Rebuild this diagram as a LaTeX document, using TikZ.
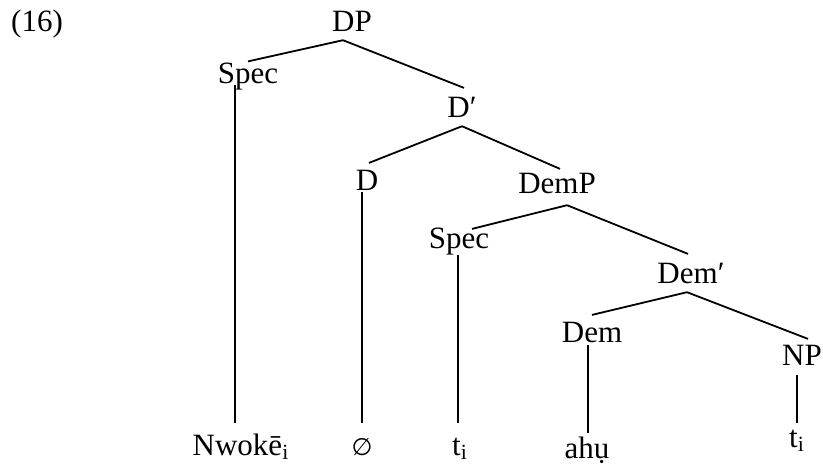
\documentclass[tikz,border=0pt]{standalone}
\usepackage{fontspec}
\setmainfont{Liberation Serif}
\newfontfamily\emptysetfont{DejaVu Sans}
\usepackage{tikz}
\usetikzlibrary{positioning}

\tikzset{
  cat/.style={anchor=base, inner sep=0pt, text height=10.85pt, text depth=3.9pt,
    font=\fontsize{15.5}{18}\selectfont},
  branch/.style={line width=0.9pt}
}

\begin{document}
\begin{tikzpicture}[x=0.5pt, y=-0.5pt]
\useasboundingbox (0, 0) rectangle (823, 465);

\node[cat] (ex) at (37, 32) {(16)};

\node[cat] (dp) at (352, 32) {DP};
\node[cat] (spec1) at (248, 83.5) {Spec};
\node[cat] (dbar) at (462, 118) {D′};
\node[cat] (d) at (367, 190) {D};
\node[cat] (demp) at (557, 193) {DemP};
\node[cat] (spec2) at (459, 248) {Spec};
\node[cat] (dembar) at (691, 283) {Dem′};
\node[cat] (dem) at (592, 342) {Dem};
\node[cat] (np) at (802, 365) {NP};

% leaves
\node[cat] (nwoke) at (241, 455) {Nwokē\textsubscript{i}};
\node[cat] (null) at (362, 455) {\emptysetfont\fontsize{12}{14}\selectfont ∅};
\node[cat] (t1) at (460, 455) {t\textsubscript{i}};
\node[cat] (ahu) at (587, 458) {ahụ};
\node[cat] (t2) at (797, 447) {t\textsubscript{i}};

\draw[branch] ([xshift=-4.5pt]dp.south) -- (spec1.north);
\draw[branch] ([xshift=-4.5pt]dp.south) -- ([shift={(1pt,4pt)}]dbar.north);
\draw[branch] (dbar.south) -- ([shift={(1pt,2.5pt)}]d.north);
\draw[branch] (dbar.south) -- ([shift={(1.5pt,1pt)}]demp.north);
\draw[branch] ([shift={(5pt,-2pt)}]demp.south) -- ([shift={(6.5pt,-1.5pt)}]spec2.north);
\draw[branch] ([shift={(5pt,-2pt)}]demp.south) -- ([shift={(-1.5pt,3.5pt)}]dembar.north);
\draw[branch] ([shift={(-2pt,-0.5pt)}]dembar.south) -- ([yshift=2.5pt]dem.north);
\draw[branch] ([shift={(-2pt,-0.5pt)}]dembar.south) -- ([shift={(3pt,2pt)}]np.north);

\draw[branch] ([shift={(-6.5pt,-0.75pt)}]spec1.base) -- ([shift={(-3pt,5pt)}]nwoke.north);
\draw[branch] ([shift={(-2.5pt,-1pt)}]d.base) -- ([yshift=5pt]null.north);
\draw[branch] ([shift={(-0.5pt,-3.5pt)}]spec2.base) -- ([shift={(-1pt,5pt)}]t1.north);
\draw[branch] ([shift={(-2pt,-1.5pt)}]dem.base) -- ([shift={(0.5pt,1.5pt)}]ahu.north);
\draw[branch] ([shift={(-2.5pt,-5pt)}]np.base) -- ([yshift=1pt]t2.north);

\end{tikzpicture}
\end{document}
